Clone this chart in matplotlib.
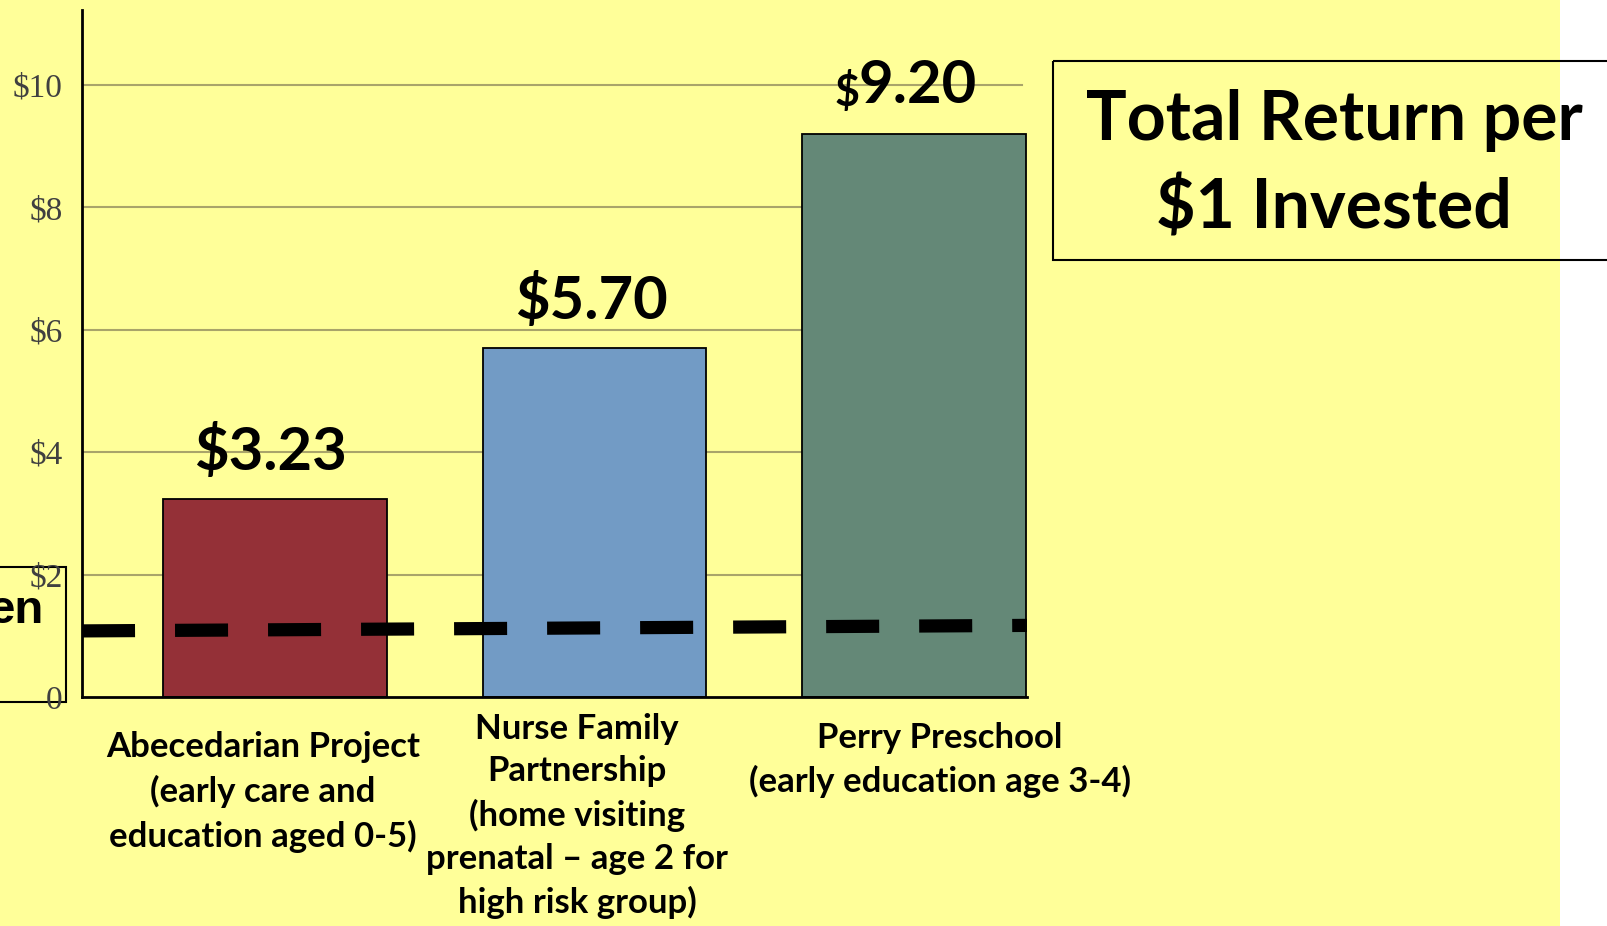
import matplotlib
matplotlib.use("Agg")
import matplotlib.pyplot as plt
from matplotlib.patches import Rectangle

# ---- data ----
programs = [
    "Abecedarian Project\n(early care and\neducation aged 0-5)",
    "Nurse Family\nPartnership\n(home visiting\nprenatal \u2013 age 2 for\nhigh risk group)",
    "Perry Preschool\n(early education age 3-4)",
]
returns = [3.23, 5.70, 9.20]
breakeven = [1.08, 1.17]          # dashed $1 line (slightly tilted in the original)
yticks = [0, 2, 4, 6, 8, 10]
ytick_labels = ["0", "$2", "$4", "$6", "$8", "$10"]
title_lines = ["Total Return per", "$1 Invested"]
side_text = "en"

bar_colors = ["#943037", "#729BC5", "#648877"]
W, H = 1608, 926
BOLD = ["Lato", "DejaVu Sans"]

fig = plt.figure(figsize=(W / 100, H / 100), dpi=100)
fig.patch.set_facecolor("white")

# background / annotation layer in pixel coordinates (origin top-left)
bg = fig.add_axes([0, 0, 1, 1], zorder=0)
bg.set_xlim(0, W)
bg.set_ylim(H, 0)
bg.axis("off")
bg.add_patch(Rectangle((0, 0), 1560, H, facecolor="#FFFF99", edgecolor="none"))

# title box
bg.add_patch(Rectangle((1053, 60.5), 700, 199, facecolor="none", edgecolor="black", lw=1.5))
for ty, line in zip([140, 228], title_lines):
    bg.text(1334, ty, line, ha="center", va="baseline", fontsize=49,
            fontweight="bold", family=BOLD)

# left cut-off box
bg.add_patch(Rectangle((-10, 567), 76, 135, facecolor="none", edgecolor="black", lw=1.5))
bg.text(43, 623, side_text, ha="right", va="baseline", fontsize=34,
        fontweight="bold", family=["Liberation Sans", "DejaVu Sans"])

# main chart
ax = fig.add_axes([82 / W, 1 - 697 / H, 945 / W, 687 / H], zorder=1)
ax.patch.set_alpha(0)
x = list(range(len(returns)))
ax.set_xlim(-0.6016, 2.3516)
ax.set_ylim(0, 687 / 61.2)

ax.bar(x, returns, width=0.70, color=bar_colors, edgecolor="black", linewidth=1.3, zorder=2)

ax.set_yticks(yticks)
ax.set_yticklabels(ytick_labels, family=["Liberation Serif", "DejaVu Serif"],
                   fontsize=24, color="#404040")
ax.tick_params(axis="y", length=0, pad=14)
ax.set_xticks([])
for yv in yticks[1:]:
    ax.axhline(yv, xmin=0, xmax=0.995, color="#A9A46A", lw=1.5, zorder=1)

for s in ["top", "right"]:
    ax.spines[s].set_visible(False)
for s in ["left", "bottom"]:
    ax.spines[s].set_linewidth(2)
    ax.spines[s].set_color("black")

# dashed break-even line
ln, = ax.plot([-0.6016, 2.3516], breakeven, color="black", lw=9.5,
              solid_capstyle="butt", dash_capstyle="butt", zorder=3)
ln.set_dashes([4.02, 3.03])

# value labels
offsets_x = [-0.014, -0.011, 0.011]
for i, v in enumerate(returns):
    if i == 2:
        ax.annotate(f"{v:.2f}", (i + offsets_x[i], v), xytext=(0, 22), textcoords="offset points",
                    ha="center", va="baseline", fontsize=43, fontweight="bold", family=BOLD)
        ax.annotate("$", (i - 0.212, v), xytext=(0, 20), textcoords="offset points",
                    ha="center", va="baseline", fontsize=31, fontweight="bold", family=BOLD)
    else:
        ax.annotate(f"${v:.2f}", (i + offsets_x[i], v), xytext=(0, 21), textcoords="offset points",
                    ha="center", va="baseline", fontsize=43, fontweight="bold", family=BOLD)

# category labels
label_x = [263, 577, 940]
label_cy = [792, 816, 760]
for lx, ly, t in zip(label_x, label_cy, programs):
    bg.text(lx, ly, t, ha="center", va="center", fontsize=25, fontweight="bold",
            family=BOLD, linespacing=1.42, zorder=5)

fig.savefig("out.png", dpi=100, facecolor=fig.get_facecolor())
